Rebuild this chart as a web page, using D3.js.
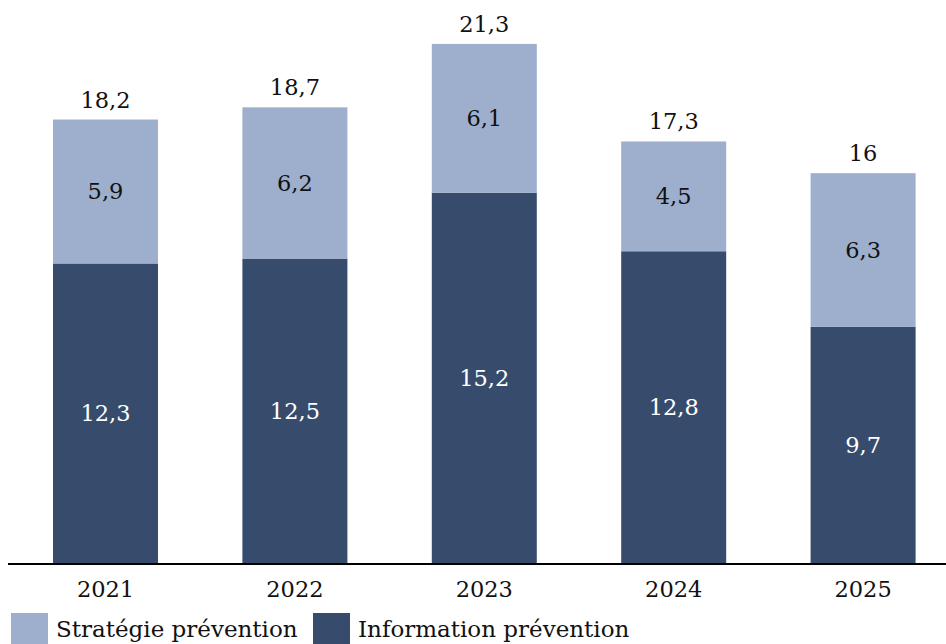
<!DOCTYPE html>
<html>
<head>
<meta charset="utf-8">
<script src="https://cdn.jsdelivr.net/npm/d3@7"></script>
<style>
  html, body { margin: 0; padding: 0; background: #fff; }
  svg { display: block; }
</style>
</head>
<body>
<svg id="chart" width="946" height="644"></svg>
<script>
// Annual figures, two stacked components per year
const years = ["2021", "2022", "2023", "2024", "2025"];
const information = [12.3, 12.5, 15.2, 12.8, 9.7];
const strategie = [5.9, 6.2, 6.1, 4.5, 6.3];
const totals = [18.2, 18.7, 21.3, 17.3, 16];
const seriesNames = ["Stratégie prévention", "Information prévention"];

const colLight = "#9DAFCD";
const colDark = "#374C6C";
const serif = "DejaVu Serif";

const fmt = v => String(v).replace(".", ",");

const svg = d3.select("#chart");

const x = d3.scaleBand()
  .domain(years)
  .range([10.8, 957.8])
  .paddingInner(0.4456)
  .paddingOuter(0.2228);

const y = d3.scaleLinear()
  .domain([0, 23.1])
  .range([563.5, 0]);

const rows = years.map((yr, i) => ({
  year: yr,
  info: information[i],
  strat: strategie[i],
  total: totals[i]
}));

const g = svg.append("g").attr("font-family", serif);

// lower segment
g.selectAll("rect.info")
  .data(rows)
  .join("rect")
  .attr("class", "info")
  .attr("x", d => x(d.year))
  .attr("width", x.bandwidth())
  .attr("y", d => y(d.info))
  .attr("height", d => y(0) - y(d.info))
  .attr("fill", colDark);

// upper segment
g.selectAll("rect.strat")
  .data(rows)
  .join("rect")
  .attr("class", "strat")
  .attr("x", d => x(d.year))
  .attr("width", x.bandwidth())
  .attr("y", d => y(d.info + d.strat))
  .attr("height", d => y(d.info) - y(d.info + d.strat))
  .attr("fill", colLight);

// segment labels
g.selectAll("text.infoLbl")
  .data(rows)
  .join("text")
  .attr("class", "infoLbl")
  .attr("x", d => x(d.year) + x.bandwidth() / 2)
  .attr("y", d => (y(0) + y(d.info)) / 2)
  .attr("text-anchor", "middle")
  .attr("dominant-baseline", "central")
  .attr("font-size", 22.5)
  .attr("fill", "#fff")
  .text(d => fmt(d.info));

g.selectAll("text.stratLbl")
  .data(rows)
  .join("text")
  .attr("class", "stratLbl")
  .attr("x", d => x(d.year) + x.bandwidth() / 2)
  .attr("y", d => (y(d.info) + y(d.info + d.strat)) / 2)
  .attr("text-anchor", "middle")
  .attr("dominant-baseline", "central")
  .attr("font-size", 22.5)
  .attr("fill", "#111")
  .text(d => fmt(d.strat));

// totals above each stack
g.selectAll("text.total")
  .data(rows)
  .join("text")
  .attr("class", "total")
  .attr("x", d => x(d.year) + x.bandwidth() / 2)
  .attr("y", d => y(d.info + d.strat) - 12)
  .attr("text-anchor", "middle")
  .attr("font-size", 22.5)
  .attr("fill", "#111")
  .text(d => fmt(d.total));

// category axis
const xAxis = svg.append("g")
  .attr("transform", `translate(0,${y(0) + 0.5})`)
  .call(d3.axisBottom(x).tickSize(0).tickPadding(17))
  .attr("font-family", serif);
xAxis.select(".domain")
  .attr("d", "M8,0H946")
  .attr("stroke", "#000")
  .attr("stroke-width", 2);
xAxis.selectAll("text")
  .attr("font-size", 22.5)
  .attr("fill", "#111");

// legend
const legend = svg.append("g")
  .attr("transform", "translate(11,613)")
  .attr("font-family", serif);
const items = [
  { name: seriesNames[0], color: colLight, x: 0 },
  { name: seriesNames[1], color: colDark, x: 302 }
];
const li = legend.selectAll("g").data(items).join("g")
  .attr("transform", d => `translate(${d.x},0)`);
li.append("rect")
  .attr("width", 37).attr("height", 32)
  .attr("fill", d => d.color);
li.append("text")
  .attr("x", 45)
  .attr("y", 24)
  .attr("font-size", 23)
  .attr("fill", "#111")
  .text(d => d.name);
</script>
</body>
</html>
